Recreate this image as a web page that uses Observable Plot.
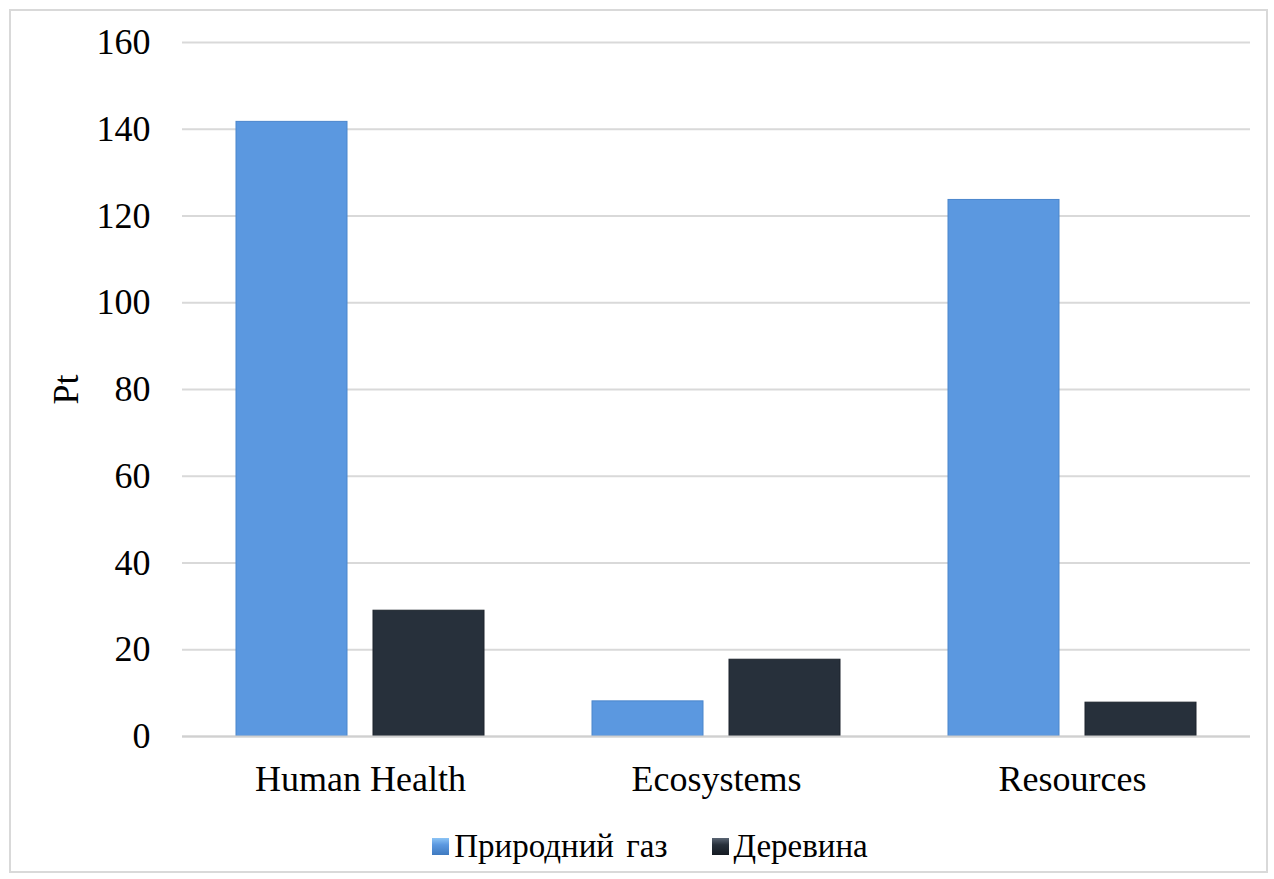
<!DOCTYPE html>
<html>
<head>
<meta charset="utf-8">
<script src="https://cdn.jsdelivr.net/npm/d3@7"></script>
<script src="https://cdn.jsdelivr.net/npm/@observablehq/plot@0.6"></script>
<style>
  html, body { margin: 0; padding: 0; background: #fff; }
  body { width: 1274px; height: 879px; position: relative; overflow: hidden; font-family: "Liberation Serif", "DejaVu Serif", serif; }
  #frame { position: absolute; left: 9px; top: 9px; width: 1259px; height: 864px; border: 2px solid #d9d9d9; box-sizing: border-box; }
  #chart { position: absolute; left: 0; top: 0; }
  #legend { position: absolute; left: 26px; width: 1248px; top: 828px; display: flex; justify-content: center; align-items: center; font-size: 33px; word-spacing: 4px; color: #000; }
  .item { display: flex; align-items: center; margin: 0 22px; }
  .sw { width: 17px; height: 17px; margin-right: 5px; }
</style>
</head>
<body>
<div id="frame"></div>
<div id="chart"></div>
<div id="legend"></div>
<script>
const categories = ["Human Health", "Ecosystems", "Resources"];
const series = ["Природний газ", "Деревина"];
const gasValues = [141.7, 8.1, 123.7];
const woodValues = [29.0, 17.7, 7.8];
const yTicks = [0, 20, 40, 60, 80, 100, 120, 140, 160];
const colors = ["#5b98e0", "#27303b"];

const data = categories.flatMap((c, i) => [
  {category: c, series: series[0], value: gasValues[i]},
  {category: c, series: series[1], value: woodValues[i]}
]);

const chart = Plot.plot({
  width: 1274,
  height: 820,
  marginLeft: 182,
  marginRight: 24,
  marginTop: 42,
  marginBottom: 84,
  style: {fontFamily: "Liberation Serif", fontSize: "36px", color: "#000", background: "transparent"},
  fx: {domain: categories, padding: 0, label: null, axis: "bottom", tickSize: 0, tickPadding: 29},
  x: {domain: series, paddingInner: 0.19, paddingOuter: 0.394, axis: null},
  y: {domain: [0, 160], ticks: yTicks, tickSize: 0, tickPadding: 32, label: "Pt", labelAnchor: "center", labelArrow: "none", labelOffset: 130},
  color: {domain: series, range: colors},
  marks: [
    Plot.gridY(yTicks, {stroke: "#d9d9d9", strokeOpacity: 1, strokeWidth: 2}),
    Plot.barY(data, {fx: "category", x: "series", y: "value", fill: "series", stroke: d => d.series === series[0] ? "#4a86cc" : "#1c232c", strokeWidth: 1}),
    Plot.ruleY([0], {stroke: "#d0d0d0", strokeWidth: 2})
  ]
});
document.getElementById("chart").appendChild(chart);

const legend = document.getElementById("legend");
series.forEach((s, i) => {
  const item = document.createElement("div");
  item.className = "item";
  const sw = document.createElement("div");
  sw.className = "sw";
  sw.style.background = i === 0
    ? "linear-gradient(to bottom, #8cc4f5, #5b98e0 40%, #3f7ac0)"
    : "linear-gradient(to bottom, #5a6574, #27303b 40%, #151b22)";
  const t = document.createElement("span");
  t.textContent = s;
  item.appendChild(sw);
  item.appendChild(t);
  legend.appendChild(item);
});
</script>
</body>
</html>
